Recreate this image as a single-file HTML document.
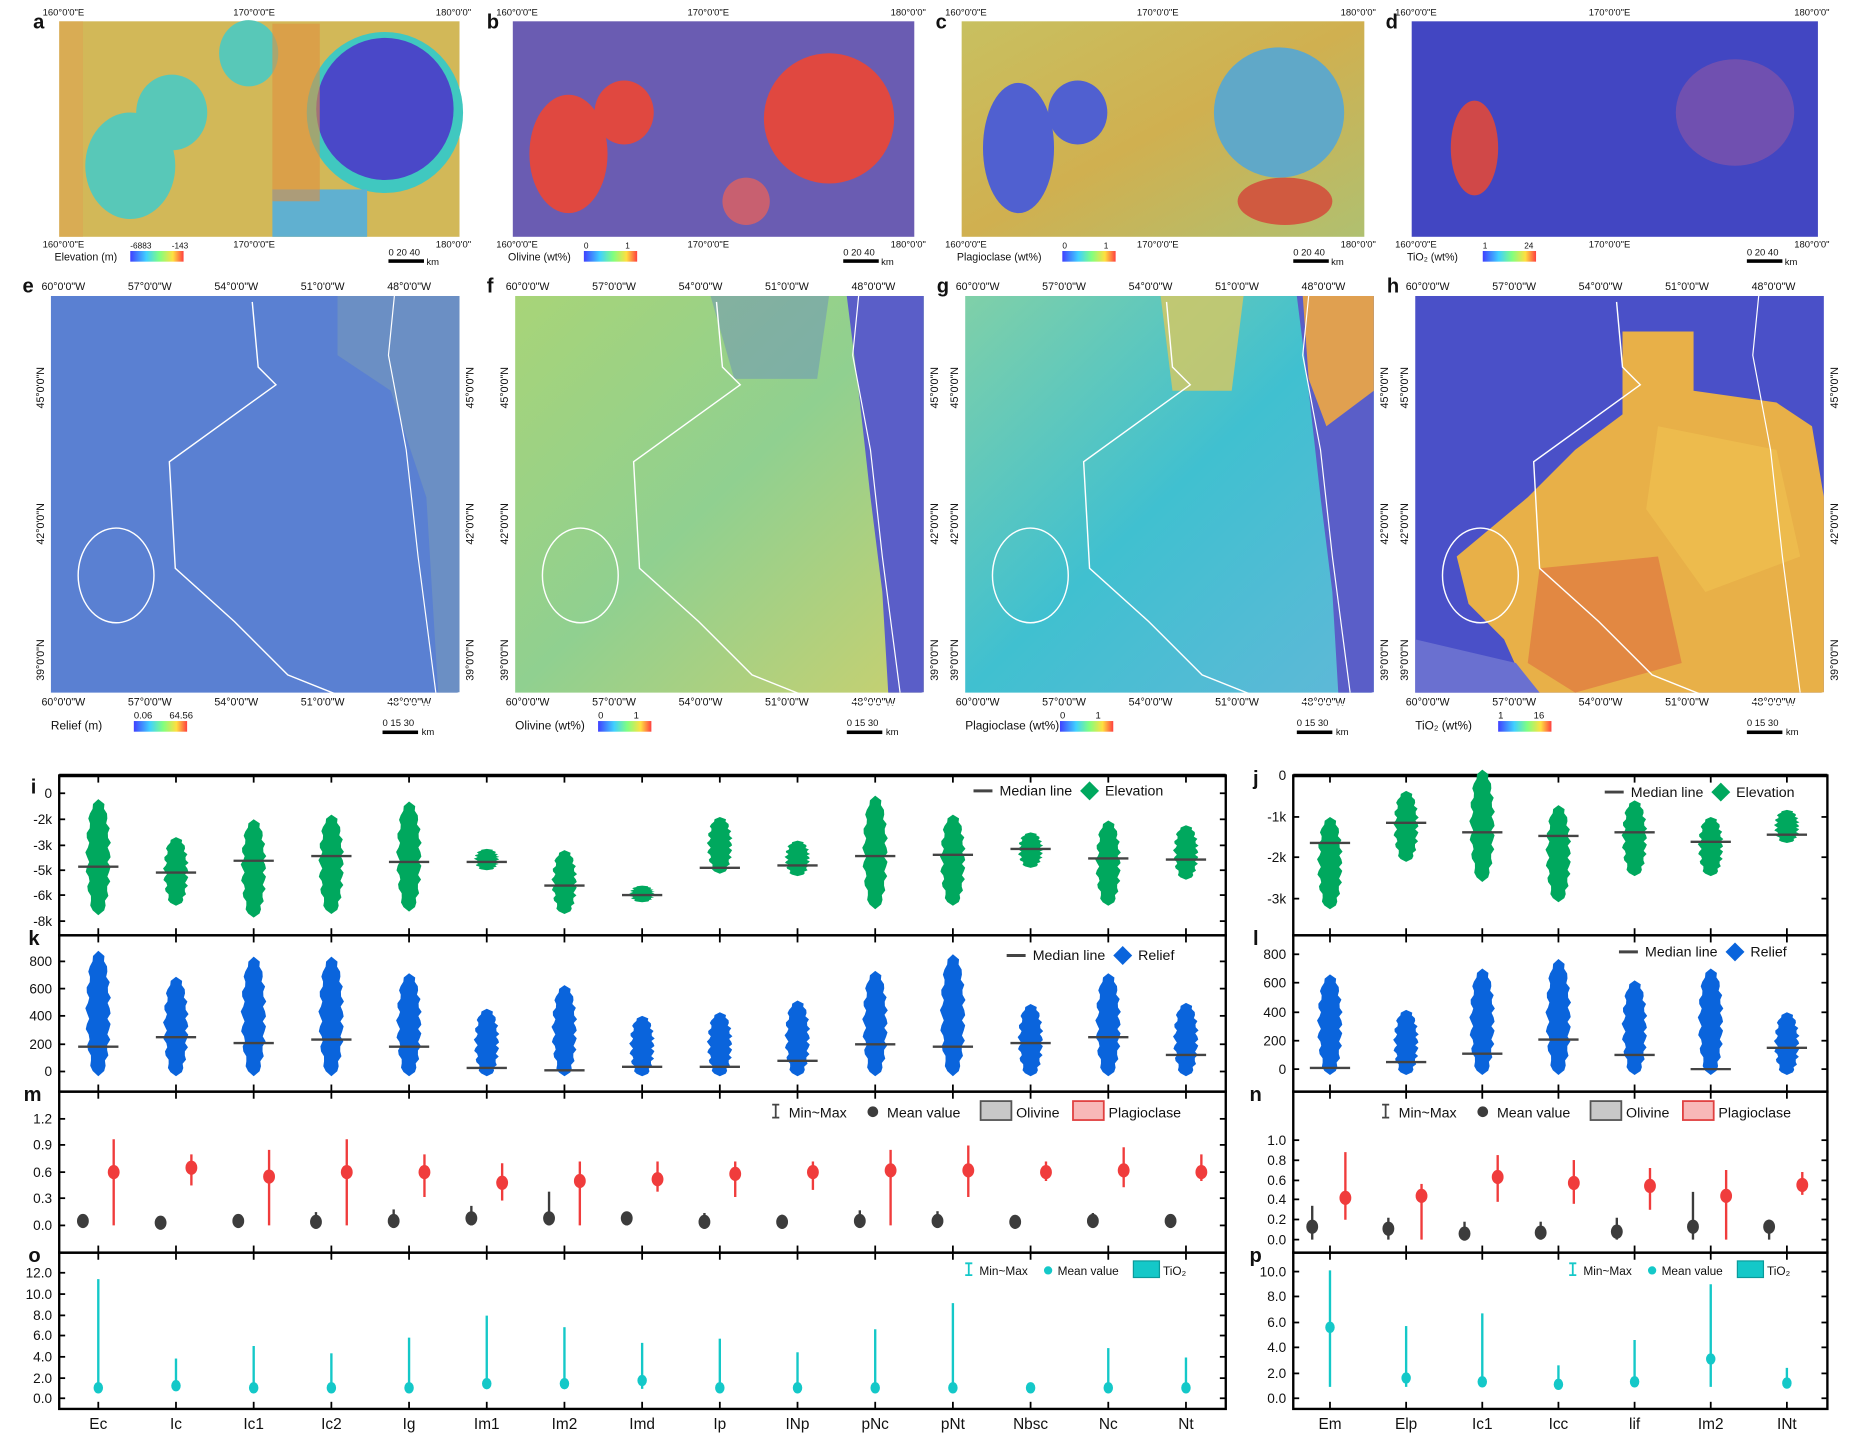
<!DOCTYPE html>
<html><head><meta charset="utf-8"><style>
html,body{margin:0;padding:0;background:#fff}
svg{display:block}
text{font-family:"Liberation Sans",Arial,sans-serif}
</style></head><body>
<svg id="s" width="1857" height="1448" viewBox="0 0 1568 1223" preserveAspectRatio="none" xmlns="http://www.w3.org/2000/svg">
<defs>
<linearGradient id="rb" x1="0" x2="1"><stop offset="0" stop-color="#4040ff"/><stop offset=".3" stop-color="#40d0ff"/><stop offset=".55" stop-color="#80ff80"/><stop offset=".8" stop-color="#ffe040"/><stop offset="1" stop-color="#ff4040"/></linearGradient>
<linearGradient id="fa" x1="0" x2="1" y1="0" y2="1"><stop offset="0" stop-color="#c8c060"/><stop offset=".5" stop-color="#d0b050"/><stop offset="1" stop-color="#b0c070"/></linearGradient>
<linearGradient id="ff" x1="0" x2="1" y1="0" y2="1"><stop offset="0" stop-color="#a8d478"/><stop offset=".5" stop-color="#90d090"/><stop offset="1" stop-color="#c8d070"/></linearGradient>
<linearGradient id="fg" x1="0" x2="1" y1="0" y2="1"><stop offset="0" stop-color="#80d0a8"/><stop offset=".5" stop-color="#40c0d0"/><stop offset="1" stop-color="#60b8d8"/></linearGradient>
</defs>
<g id="maps"></g>
<g id="charts"></g>
</svg>
<script>
(function(){
const NS="http://www.w3.org/2000/svg";
const M=document.getElementById('maps'),C=document.getElementById('charts');
function el(p,t,a,txt){const e=document.createElementNS(NS,t);for(const k in a)e.setAttribute(k,a[k]);if(txt!==undefined)e.textContent=txt;p.appendChild(e);return e;}
function T(p,x,y,s,txt,extra){return el(p,'text',Object.assign({x:x,y:y,'font-size':s,fill:'#111'},extra||{}),txt);}
const topMaps=[[50,388,'a','#d2b858',"Elevation (m)",'-6883','-143'],[433,772,'b','#6a5cb2',"Olivine (wt%)",'0','1'],[812,1152,'c','url(#fa)',"Plagioclase (wt%)",'0','1'],[1192,1535,'d','#4246c2',"TiO\u2082 (wt%)",'1','24']];
topMaps.forEach((m,i)=>{const[x0,x1,l,f,lg,a0,a1]=m;
 el(M,'rect',{x:x0,y:18,width:x1-x0,height:182,fill:f});
 T(M,x0-22,24,17,l,{'font-weight':'bold'});
 T(M,x0-14,13,8,"160°0'0\"E");T(M,(x0+x1)/2-22,13,8,"170°0'0\"E");T(M,x1-20,13,8,"180°0'0\"");
 T(M,x0-14,209,8,"160°0'0\"E");T(M,(x0+x1)/2-22,209,8,"170°0'0\"E");T(M,x1-20,209,8,"180°0'0\"");
 T(M,x0-4,220,9,lg);el(M,'rect',{x:x0+60+(i==2?25:0),y:212,width:45,height:9,fill:'url(#rb)'});
 T(M,x0+60+(i==2?25:0),210,7,a0);T(M,x0+95+(i==2?25:0),210,7,a1);
 el(M,'rect',{x:x1-60,y:219,width:30,height:3,fill:'#000'});T(M,x1-60,216,8,"0  20  40");T(M,x1-28,224,8,"km");
});
el(M,'rect',{x:50,y:18,width:20,height:182,fill:'#e0a050',opacity:.5});
el(M,'ellipse',{cx:325,cy:95,rx:66,ry:68,fill:'#40c8c0'});el(M,'ellipse',{cx:325,cy:92,rx:58,ry:60,fill:'#4a48c8'});
el(M,'ellipse',{cx:145,cy:95,rx:30,ry:32,fill:'#58c8b8'});el(M,'ellipse',{cx:110,cy:140,rx:38,ry:45,fill:'#58c8b8'});
el(M,'ellipse',{cx:210,cy:45,rx:25,ry:28,fill:'#58c8b8'});el(M,'rect',{x:230,y:160,width:80,height:40,fill:'#60b0d0'});
el(M,'rect',{x:230,y:20,width:40,height:150,fill:'#e09040',opacity:.6});
el(M,'ellipse',{cx:480,cy:130,rx:33,ry:50,fill:'#e04840'});el(M,'ellipse',{cx:527,cy:95,rx:25,ry:27,fill:'#e04840'});el(M,'ellipse',{cx:700,cy:100,rx:55,ry:55,fill:'#e04840'});
el(M,'ellipse',{cx:630,cy:170,rx:20,ry:20,fill:'#c86070'});
el(M,'ellipse',{cx:860,cy:125,rx:30,ry:55,fill:'#5060d0'});el(M,'ellipse',{cx:910,cy:95,rx:25,ry:27,fill:'#5060d0'});el(M,'ellipse',{cx:1080,cy:95,rx:55,ry:55,fill:'#60a8c8'});
el(M,'ellipse',{cx:1085,cy:170,rx:40,ry:20,fill:'#d05a40'});
el(M,'ellipse',{cx:1245,cy:125,rx:20,ry:40,fill:'#d04848'});el(M,'ellipse',{cx:1465,cy:95,rx:50,ry:45,fill:'#7050b0'});
const sec=[[43,388,'e','#5a80d2',"Relief (m)",'0.06','64.56'],[435,780,'f','url(#ff)',"Olivine (wt%)",'0','1'],[815,1160,'g','url(#fg)',"Plagioclase (wt%)",'0','1'],[1195,1540,'h','#4a50c8',"TiO\u2082 (wt%)",'1','16']];
sec.forEach((m,i)=>{const[x0,x1,l,f,lg,a0,a1]=m;
 el(M,'rect',{x:x0,y:250,width:x1-x0,height:335,fill:f});
 T(M,x0-24,247,17,l,{'font-weight':'bold'});
 ["60°0'0\"W","57°0'0\"W","54°0'0\"W","51°0'0\"W","48°0'0\"W"].forEach((s,j)=>{T(M,x0-8+j*73,245,9,s);T(M,x0-8+j*73,596,9,s);});
 ["45°0'0\"N","42°0'0\"N","39°0'0\"N"].forEach((s,j)=>{const y=[345,460,575][j];T(M,x0-6,y,9,s,{transform:`rotate(-90 ${x0-6} ${y})`});T(M,x1+12,y,9,s,{transform:`rotate(-90 ${x1+12} ${y})`});});
 T(M,x0,616,10,lg);el(M,'rect',{x:x0+70+(i==2?10:0),y:609,width:45,height:9,fill:'url(#rb)'});
 T(M,x0+70+(i==2?10:0),607,8,a0);T(M,x0+100+(i==2?10:0),607,8,a1);
 el(M,'rect',{x:x1-65,y:617,width:30,height:3,fill:'#000'});T(M,x1-65,613,8,"0  15  30");T(M,x1-32,621,8,"km");
});
el(M,'path',{d:'M285 250 L388 250 L388 585 L370 585 L360 420 L330 330 L285 300 Z',fill:'#7a9ab8',opacity:.55});
[780,1160].forEach(x1=>{el(M,'path',{d:`M${x1-65} 250 L${x1} 250 L${x1} 585 L${x1-30} 585 L${x1-35} 500 L${x1-45} 420 L${x1-55} 330 Z`,fill:'#5a5ec8'});});
el(M,'path',{d:'M1100 250 L1160 250 L1160 330 L1120 360 L1105 320 Z',fill:'#e0a050'});
el(M,'path',{d:'M600 250 L700 250 L690 320 L620 320 Z',fill:'#6080c8',opacity:.4});
el(M,'path',{d:'M980 250 L1050 250 L1040 330 L990 330 Z',fill:'#d8c860',opacity:.8});
el(M,'path',{d:'M1370 280 L1430 280 L1430 330 L1500 340 L1530 360 L1540 420 L1540 585 L1290 585 L1270 540 L1240 510 L1230 470 L1290 420 L1330 380 L1370 350 Z',fill:'#e8b048'});
el(M,'path',{d:'M1300 480 L1400 470 L1420 560 L1330 585 L1290 560 Z',fill:'#e07840',opacity:.7});
el(M,'path',{d:'M1400 360 L1500 380 L1520 470 L1440 500 L1390 430 Z',fill:'#f0c050',opacity:.7});
el(M,'path',{d:'M1195 540 L1280 560 L1300 585 L1195 585 Z',fill:'#6a70d0'});
[43,435,815,1195].forEach(x0=>{const d=[[170,5],[175,60],[190,75],[100,140],[105,230],[155,275],[200,320],[250,340],[320,345],[345,335]].map((p,i)=>(i?'L':'M')+(x0+p[0])+' '+(250+p[1])).join(' ');
 el(M,'path',{d:d,fill:'none',stroke:'#fff','stroke-width':1.2});
 el(M,'ellipse',{cx:x0+55,cy:486,rx:32,ry:40,fill:'none',stroke:'#fff','stroke-width':1.2});
 el(M,'path',{d:`M${x0+290} 250 L${x0+285} 300 L${x0+300} 380 L${x0+310} 470 L${x0+325} 585`,fill:'none',stroke:'#fff','stroke-width':1});
});
const L=[50,1035],R=[1092,1543];
const catL=["Ec","Ic","Ic1","Ic2","Ig","Im1","Im2","Imd","Ip","INp","pNc","pNt","Nbsc","Nc","Nt"];
const catR=["Em","Elp","Ic1","Icc","lif","Im2","INt"];
const cxL=i=>83+i*65.6, cxR=i=>1123+i*64.3;
const panels=[[655,790],[790,922],[922,1058],[1058,1190]];
function frame(xr){panels.forEach(([a,b])=>{el(C,'rect',{x:xr[0],y:a,width:xr[1]-xr[0],height:b-a,fill:'none',stroke:'#000','stroke-width':2});});
 el(C,'line',{x1:xr[0],x2:xr[1],y1:655,y2:655,stroke:'#000','stroke-width':3});}
frame(L);frame(R);
function xt(n,cx){panels.forEach(([a,b])=>{for(let i=0;i<n;i++){const x=cx(i);el(C,'line',{x1:x,x2:x,y1:a,y2:a+6,stroke:'#000','stroke-width':1.5});el(C,'line',{x1:x,x2:x,y1:b,y2:b-6,stroke:'#000','stroke-width':1.5});}});}
xt(15,cxL);xt(7,cxR);
catL.forEach((c,i)=>T(C,cxL(i),1207,13,c,{'text-anchor':'middle'}));
catR.forEach((c,i)=>T(C,cxR(i),1207,13,c,{'text-anchor':'middle'}));
function yt(xr,labels){labels.forEach(([y,s])=>{el(C,'line',{x1:xr[0],x2:xr[0]+5,y1:y,y2:y,stroke:'#000','stroke-width':1.5});el(C,'line',{x1:xr[1],x2:xr[1]-5,y1:y,y2:y,stroke:'#000','stroke-width':1.5});T(C,xr[0]-6,y+4,11.5,s,{'text-anchor':'end'});});}
yt(L,[[670,'0'],[692,'-2k'],[714,'-3k'],[735,'-5k'],[756,'-6k'],[778,'-8k']]);
yt(R,[[655,'0'],[690,'-1k'],[724,'-2k'],[759,'-3k']]);
yt(L,[[812,'800'],[835,'600'],[858,'400'],[882,'200'],[905,'0']]);
yt(R,[[806,'800'],[830,'600'],[855,'400'],[879,'200'],[903,'0']]);
yt(L,[[945,'1.2'],[967,'0.9'],[990,'0.6'],[1012,'0.3'],[1035,'0.0']]);
yt(R,[[963,'1.0'],[980,'0.8'],[997,'0.6'],[1013,'0.4'],[1030,'0.2'],[1047,'0.0']]);
yt(L,[[1075,'12.0'],[1093,'10.0'],[1111,'8.0'],[1128,'6.0'],[1146,'4.0'],[1164,'2.0'],[1181,'0.0']]);
yt(R,[[1074,'10.0'],[1095,'8.0'],[1117,'6.0'],[1138,'4.0'],[1160,'2.0'],[1181,'0.0']]);
[['i',26,670],['k',24,798],['m',20,930],['o',24,1066]].forEach(([l,x,y])=>T(C,x,y,17,l,{'font-weight':'bold'}));
[['j',1058,663],['l',1058,798],['n',1055,930],['p',1055,1066]].forEach(([l,x,y])=>T(C,x,y,17,l,{'font-weight':'bold'}));
function blob(cx,t,b,med,col,hw){let pts=[];const n=24;for(let k=0;k<=n;k++){const u=k/n;const w=hw*Math.pow(Math.sin(Math.PI*u),0.35)*(0.85+0.15*Math.sin(k*2.3));pts.push([cx+w,t+u*(b-t)]);}
 for(let k=n;k>=0;k--){const u=k/n;const w=hw*Math.pow(Math.sin(Math.PI*u),0.35)*(0.85+0.15*Math.cos(k*1.7));pts.push([cx-w,t+u*(b-t)]);}
 el(C,'polygon',{points:pts.map(p=>p.join(',')).join(' '),fill:col});
 el(C,'line',{x1:cx-17,x2:cx+17,y1:med,y2:med,stroke:'#444','stroke-width':2});}
const G='#00a85e',B='#0a64dc';
[[675,773,732],[707,765,737],[692,775,727],[688,772,723],[677,770,728],[717,735,728],[718,772,748],[748,762,756],[690,738,733],[710,740,731],[672,768,723],[688,765,722],[703,733,717],[693,765,725],[697,743,726]].forEach((d,i)=>blob(cxL(i),d[0],d[1],d[2],G,11));
[[690,768,712],[668,728,695],[650,745,703],[680,762,706],[676,740,703],[690,740,711],[684,712,705]].forEach((d,i)=>blob(cxR(i),d[0],d[1],d[2],G,11));
[[803,884],[825,876],[808,881],[808,878],[822,884],[852,902],[832,904],[858,901],[855,901],[845,896],[820,882],[806,884],[848,881],[822,876],[847,891]].forEach((d,i)=>blob(cxL(i),d[0],909,d[1],B,11));
[[823,902],[853,897],[818,890],[810,878],[828,891],[818,903],[855,885]].forEach((d,i)=>blob(cxR(i),d[0],908,d[1],B,11));
function leg1(x,y,col,name){el(C,'line',{x1:x,x2:x+16,y1:y-4,y2:y-4,stroke:'#444','stroke-width':2.5});T(C,x+22,y,12,'Median line');el(C,'polygon',{points:`${x+98},${y-12} ${x+106},${y-4} ${x+98},${y+4} ${x+90},${y-4}`,fill:col});T(C,x+111,y,12,name);}
leg1(822,672,G,'Elevation');leg1(1355,673,G,'Elevation');leg1(850,811,B,'Relief');leg1(1367,808,B,'Relief');
function eb(cx,yf,v,col,r){const[m,a,b]=v;el(C,'line',{x1:cx,x2:cx,y1:yf(a),y2:yf(b),stroke:col,'stroke-width':2});el(C,'ellipse',{cx:cx,cy:yf(m),rx:r,ry:r*1.2,fill:col});}
const ym=v=>1035-v*75, yn=v=>1047-v*84, yo=v=>1181-v*8.83, yp=v=>1181-v*10.7;
const redL=[[.6,0,.97],[.65,.45,.8],[.55,0,.85],[.6,0,.97],[.6,.32,.8],[.48,.28,.7],[.5,0,.72],[.52,.38,.72],[.58,.32,.72],[.6,.4,.72],[.62,0,.85],[.62,.32,.9],[.6,.5,.72],[.62,.43,.88],[.6,.5,.8]];
const grL=[[.05,0,.12],[.03,0,.05],[.05,0,.12],[.04,0,.15],[.05,0,.18],[.08,0,.22],[.08,0,.38],[.08,0,.15],[.04,0,.14],[.04,0,.12],[.05,0,.17],[.05,0,.16],[.04,0,.05],[.05,0,.14],[.05,0,.1]];
redL.forEach((v,i)=>eb(cxL(i)+13,ym,v,'#f03c3c',5));grL.forEach((v,i)=>eb(cxL(i)-13,ym,v,'#3c3c3c',5));
const redR=[[.42,.2,.88],[.44,0,.56],[.63,.38,.85],[.57,.36,.8],[.54,.3,.72],[.44,0,.7],[.55,.45,.68]];
const grR=[[.13,0,.34],[.11,0,.22],[.06,0,.18],[.07,0,.18],[.08,0,.22],[.13,0,.48],[.13,0,.2]];
redR.forEach((v,i)=>eb(cxR(i)+13,yn,v,'#f03c3c',5));grR.forEach((v,i)=>eb(cxR(i)-15,yn,v,'#3c3c3c',5));
const cyL=[[1,.9,11.4],[1.2,.9,3.8],[1,.9,5],[1,.9,4.3],[1,.9,5.8],[1.4,.9,7.9],[1.4,.9,6.8],[1.7,.9,5.3],[1,.9,5.7],[1,.9,4.4],[1,.9,6.6],[1,.9,9.1],[1,.9,1.1],[1,.9,4.8],[1,.9,3.9]];
cyL.forEach((v,i)=>eb(cxL(i),yo,v,'#14c8c8',4));
const cyR=[[5.6,.9,10.1],[1.6,.9,5.7],[1.3,.9,6.7],[1.1,.9,2.6],[1.3,.9,4.6],[3.1,.9,9],[1.2,.9,2.4]];
cyR.forEach((v,i)=>eb(cxR(i),yp,v,'#14c8c8',4));
function leg2(x,y){el(C,'path',{d:`M${x} ${y-11}h6M${x+3} ${y-11}v11M${x} ${y}h6`,stroke:'#444','stroke-width':1.5,fill:'none'});T(C,x+14,y,12,'Min~Max');
 el(C,'circle',{cx:x+85,cy:y-5,r:4.5,fill:'#3c3c3c'});T(C,x+97,y,12,'Mean value');
 el(C,'rect',{x:x+176,y:y-14,width:26,height:16,fill:'#c8c8c8',stroke:'#555','stroke-width':1.5});T(C,x+206,y,12,'Olivine');
 el(C,'rect',{x:x+254,y:y-14,width:26,height:16,fill:'#f8b8b8',stroke:'#e04040','stroke-width':1.5});T(C,x+284,y,12,'Plagioclase');}
leg2(652,944);leg2(1167,944);
function leg3(x,y){el(C,'path',{d:`M${x} ${y-10}h6M${x+3} ${y-10}v10M${x} ${y}h6`,stroke:'#14c8c8','stroke-width':1.5,fill:'none'});T(C,x+12,y,10,'Min~Max');
 el(C,'circle',{cx:x+70,cy:y-4,r:3.5,fill:'#14c8c8'});T(C,x+78,y,10,'Mean value');
 el(C,'rect',{x:x+142,y:y-12,width:22,height:14,fill:'#14c8c8',stroke:'#0a9a9a'});T(C,x+167,y,10,'TiO\u2082');}
leg3(815,1077);leg3(1325,1077);
})();
</script>
</body></html>
